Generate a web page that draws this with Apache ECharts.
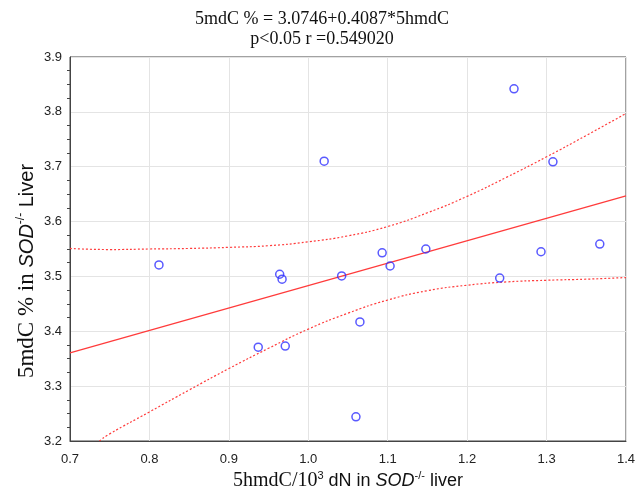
<!DOCTYPE html>
<html>
<head>
<meta charset="utf-8">
<script src="https://cdn.jsdelivr.net/npm/echarts@6/dist/echarts.min.js"></script>
<style>
  html, body { margin: 0; padding: 0; background: #fff; }
  #chart { width: 644px; height: 490px; }
</style>
</head>
<body>
<div id="chart"></div>
<script>
// observed points: 5hmdC (x) vs 5mdC % (y)
const hmdc = [0.812, 1.020, 1.259, 1.308, 1.367, 1.293, 1.241, 1.148, 1.093, 1.103, 1.042, 0.964, 0.967, 1.065, 0.937, 0.971, 1.060];
const mdc  = [3.521, 3.710, 3.842, 3.709, 3.559, 3.545, 3.497, 3.550, 3.543, 3.519, 3.501, 3.504, 3.495, 3.417, 3.371, 3.373, 3.244];

// fitted line end points
const fitX = [0.7, 1.4];
const fitY = [3.3607, 3.6468];

// confidence band
const bandX     = [0.7,   0.75,  0.8,   0.85,  0.9,   0.95,  1.0,   1.05,  1.1,   1.15,  1.2,   1.25,  1.3,   1.35,  1.4];
const bandUpper = [3.551, 3.549, 3.550, 3.551, 3.553, 3.556, 3.563, 3.574, 3.591, 3.616, 3.646, 3.681, 3.718, 3.757, 3.797];
const lowStartX = 0.737;
const lowStartY = 3.2;
const bandLower = [null,  3.213, 3.253, 3.293, 3.332, 3.369, 3.404, 3.433, 3.457, 3.474, 3.484, 3.490, 3.493, 3.495, 3.498];

const titleLines = ['5mdC % = 3.0746+0.4087*5hmdC', 'p<0.05 r =0.549020'];

const red = '#ff3b3b';
const blue = '#2f2fff';
const serif = '"Liberation Serif", "DejaVu Serif", serif';
const sans = '"Liberation Sans", Arial, sans-serif';

const lowerPts = [[lowStartX, lowStartY]];
bandX.forEach((x, i) => { if (bandLower[i] != null) lowerPts.push([x, bandLower[i]]); });

function nameRich(serifSize, sansSize) {
  return {
    s: { fontFamily: serif, fontSize: serifSize, color: '#111' },
    a: { fontFamily: sans, fontSize: sansSize, color: '#111' },
    i: { fontFamily: sans, fontSize: sansSize, fontStyle: 'italic', color: '#111' },
    sup: { fontFamily: sans, fontSize: Math.round(sansSize * 0.62), color: '#111', verticalAlign: 'top', padding: [0, 0, Math.round(sansSize * 0.6), 0] }
  };
}

const chart = echarts.init(document.getElementById('chart'), null, { renderer: 'canvas' });
chart.setOption({
  animation: false,
  backgroundColor: '#fff',
  title: {
    text: titleLines.join('\n'),
    left: 'center',
    top: 4,
    padding: [5, 0, 5, 10],
    textStyle: { fontFamily: serif, fontSize: 18, fontWeight: 'normal', color: '#111', lineHeight: 20 }
  },
  grid: { left: 70, right: 18, top: 57, bottom: 49, outerBoundsMode: 'none', show: true, borderColor: '#444', borderWidth: 1 },
  xAxis: {
    type: 'value', min: 0.7, max: 1.4, interval: 0.1,
    axisLine: { show: true, lineStyle: { color: '#444' } },
    axisTick: { show: false },
    axisLabel: { color: '#222', fontFamily: sans, fontSize: 13, margin: 12, formatter: v => v.toFixed(1) },
    splitLine: { show: true, lineStyle: { color: '#e4e4e4' } },
    name: '{s|5hmdC/10}{sup|3}{a| dN in }{i|SOD}{sup|-/-}{a| liver}',
    nameLocation: 'middle', nameGap: 29, nameMoveOverlap: false,
    nameTextStyle: { rich: nameRich(20, 18) }
  },
  yAxis: {
    type: 'value', min: 3.2, max: 3.9, interval: 0.1,
    axisLine: { show: true, lineStyle: { color: '#444' } },
    axisTick: { show: false },
    minorTick: { show: true, splitNumber: 4, length: 3, lineStyle: { color: '#444' } },
    axisLabel: { color: '#222', fontFamily: sans, fontSize: 13, margin: 8, formatter: v => v.toFixed(1) },
    splitLine: { show: true, lineStyle: { color: '#e4e4e4' } },
    name: '{s|5mdC % in }{i|SOD}{sup|-/-}{a| Liver}',
    nameLocation: 'middle', nameRotate: 90, nameGap: 31, nameMoveOverlap: false,
    nameTextStyle: { rich: nameRich(23, 20), padding: [0, 44, 0, 0] }
  },
  series: [
    {
      type: 'line', data: fitX.map((x, i) => [x, fitY[i]]),
      symbol: 'none', lineStyle: { color: red, width: 1.2 }, z: 2
    },
    {
      type: 'line', data: bandX.map((x, i) => [x, bandUpper[i]]), smooth: true,
      symbol: 'none', lineStyle: { color: red, width: 1.2, type: [2, 2] }, z: 2
    },
    {
      type: 'line', data: lowerPts, smooth: true,
      symbol: 'none', lineStyle: { color: red, width: 1.2, type: [2, 2] }, z: 2
    },
    {
      type: 'scatter', data: hmdc.map((x, i) => [x, mdc[i]]),
      symbol: 'circle', symbolSize: 8,
      itemStyle: { color: 'rgba(0,0,0,0)', borderColor: blue, borderWidth: 1.5 }, z: 3
    }
  ]
});
</script>
</body>
</html>
